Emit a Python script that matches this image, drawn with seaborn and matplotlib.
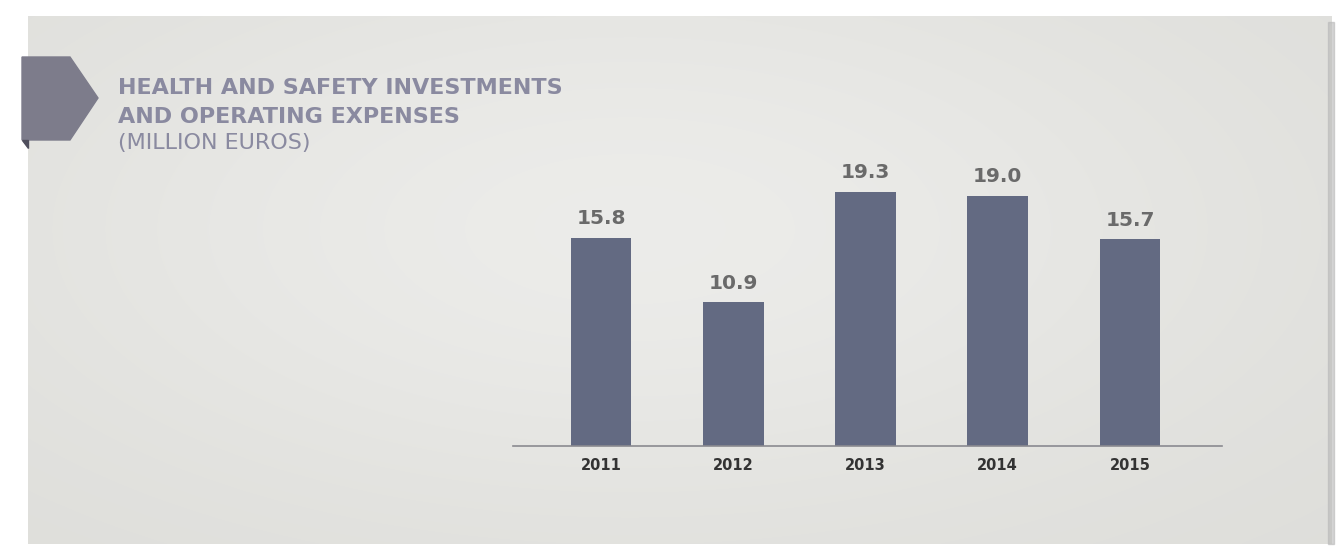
import numpy as np
import pandas as pd
import seaborn as sns
import matplotlib.pyplot as plt
from matplotlib.patches import Polygon, Rectangle

years = ['2011', '2012', '2013', '2014', '2015']
values = [15.8, 10.9, 19.3, 19.0, 15.7]
title_lines = ['HEALTH AND SAFETY INVESTMENTS', 'AND OPERATING EXPENSES']
subtitle = '(MILLION EUROS)'

sns.set_style('white')
plt.rcParams['font.family'] = ['DejaVu Sans']

bar_color = '#636a82'
title_color = '#8a8aa0'

fig = plt.figure(figsize=(13.44, 5.46), dpi=100, facecolor='white')

# background panel with a soft light centre
bg = fig.add_axes([0, 0, 1, 1], zorder=-10)
bg.set_xlim(0, 1344)
bg.set_ylim(546, 0)
bg.axis('off')
yy, xx = np.mgrid[0:546, 0:1344]
shade = np.exp(-(((xx - 620) / 700.0) ** 2 + ((yy - 220) / 320.0) ** 2))
base = np.array([0.865, 0.865, 0.85])
top = np.array([0.925, 0.925, 0.915])
img = base + (top - base) * shade[..., None]
bg.add_patch(Rectangle((0, 0), 1344, 546, color='white', zorder=0))
bg.imshow(img, extent=(28, 1332, 544, 16), aspect='auto', zorder=1)
bg.add_patch(Rectangle((1328, 22), 6, 522, color='#b8b8b8', alpha=0.6, zorder=2))
bg.add_patch(Polygon([[22, 57], [70, 57], [98, 98], [70, 140], [22, 140]],
                     closed=True, color='#7d7c8b', zorder=3))
bg.add_patch(Polygon([[22, 140], [28, 140], [28, 148]], closed=True, color='#4f4e5c', zorder=3))

fig.text(118 / 1344, 1 - 88 / 546, title_lines[0], color=title_color, fontsize=16,
         fontweight='semibold', va='center', ha='left')
fig.text(118 / 1344, 1 - 117 / 546, title_lines[1], color=title_color, fontsize=16,
         fontweight='semibold', va='center', ha='left')
fig.text(118 / 1344, 1 - 143 / 546, subtitle, color=title_color, fontsize=16,
         va='center', ha='left')

ax = fig.add_axes([513 / 1344, 1 - 446 / 546, (1222 - 513) / 1344, 290 / 546])
df = pd.DataFrame({'year': years, 'value': values})
sns.barplot(data=df, x='year', y='value', color=bar_color, saturation=1, width=0.46,
            edgecolor='none', linewidth=0, ax=ax)
ax.set_xlim(-0.665, 4.696)
ax.set_ylim(0, 22)
ax.patch.set_alpha(0)
for s in ['top', 'right', 'left']:
    ax.spines[s].set_visible(False)
ax.spines['bottom'].set_color('#8a8a90')
ax.spines['bottom'].set_linewidth(1.2)
ax.set_yticks([])
ax.set_xlabel('')
ax.set_ylabel('')
ax.tick_params(axis='x', length=0, pad=9, labelsize=10.5, labelcolor='#333333')
for lab in ax.get_xticklabels():
    lab.set_fontweight('bold')

for i, v in enumerate(values):
    ax.text(i, v + 0.7, f'{v:.1f}', ha='center', va='bottom', fontsize=14.5,
            color='#6a6a6a', fontweight='semibold')

fig.savefig('out.png', dpi=100, facecolor='white')
